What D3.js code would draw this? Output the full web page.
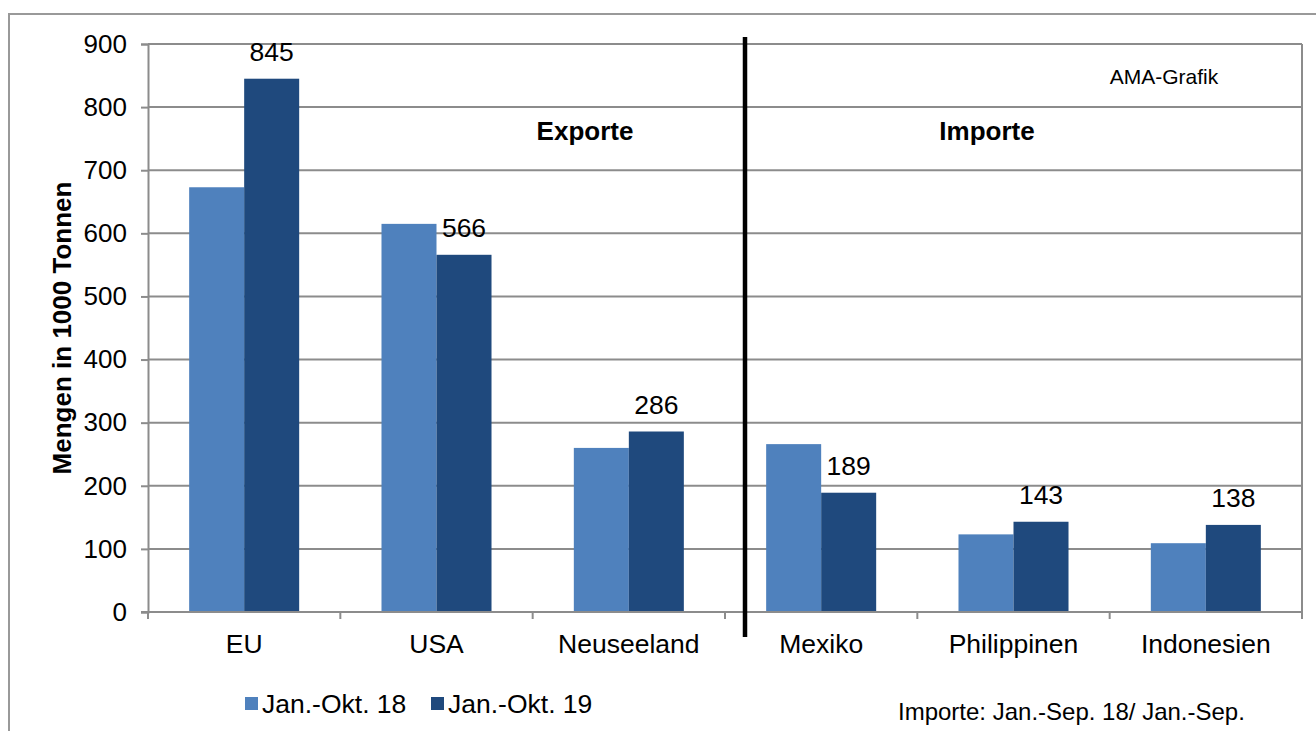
<!DOCTYPE html>
<html><head><meta charset="utf-8">
<script src="https://cdn.jsdelivr.net/npm/d3@7"></script>
<style>body{margin:0;background:#fff;}svg{display:block;font-family:"Liberation Sans",Arial,sans-serif;}</style>
</head><body>
<svg id="c" width="1316" height="731"></svg>
<script>
const categories = ["EU","USA","Neuseeland","Mexiko","Philippinen","Indonesien"];
const seriesNames = ["Jan.-Okt. 18","Jan.-Okt. 19"];
const values18 = [673,615,260,266,123,109];
const values19 = [845,566,286,189,143,138];
const yTicks = [0,100,200,300,400,500,600,700,800,900];
const colors = ["#4F81BD","#1F497D"];

(function(){
const svg = d3.select("#c");
const pL=148,pR=1302,pT=44,pB=612;

svg.append("rect").attr("x",9).attr("y",14).attr("width",1400).attr("height",800)
  .attr("fill","none").attr("stroke","#999").attr("stroke-width",2);

const x = d3.scaleBand().domain(categories).range([pL,pR]);
const y = d3.scaleLinear().domain([0,900]).range([pB,pT]);
const groupFrac = 0.572;
const sub = d3.scaleBand().domain([0,1]).range([0, x.bandwidth()*groupFrac]);
const gOff = x.bandwidth()*(1-groupFrac)/2;

svg.append("g").selectAll("line").data(yTicks.filter(d=>d>0)).join("line")
  .attr("x1",pL).attr("x2",pR).attr("y1",d=>y(d)).attr("y2",d=>y(d))
  .attr("stroke","#8c8c8c").attr("stroke-width",2);
svg.append("line").attr("x1",pR).attr("x2",pR).attr("y1",pT).attr("y2",pB)
  .attr("stroke","#8c8c8c").attr("stroke-width",2);

const data = categories.map((c,i)=>({c, v:[values18[i],values19[i]]}));
const g = svg.append("g");
data.forEach(d=>{
  d.v.forEach((v,j)=>{
    g.append("rect").attr("x",x(d.c)+gOff+sub(j)).attr("y",y(v))
      .attr("width",sub.bandwidth()).attr("height",y(0)-y(v))
      .attr("fill",colors[j]);
  });
  g.append("text").attr("x",x(d.c)+gOff+sub(1)+sub.bandwidth()/2).attr("y",y(d.v[1])-18)
    .attr("text-anchor","middle").attr("font-size",26.5).attr("fill","#000").text(d.v[1]);
});

const yAxis = d3.axisLeft(y).tickValues(yTicks).tickSize(7).tickPadding(14);
const ya = svg.append("g").attr("transform",`translate(${pL},0)`).call(yAxis);
ya.select(".domain").attr("stroke","#8c8c8c").attr("stroke-width",2);
ya.selectAll(".tick line").attr("stroke","#8c8c8c").attr("stroke-width",2);
ya.selectAll("text").attr("font-size",26).attr("fill","#000").attr("font-family","Liberation Sans, Arial, sans-serif");

const xa = svg.append("g").attr("transform",`translate(0,${pB})`);
xa.append("line").attr("x1",pL-7).attr("x2",pR).attr("y1",0).attr("y2",0)
  .attr("stroke","#8c8c8c").attr("stroke-width",2);
const bounds = categories.map(c=>x(c)).concat([pR]);
xa.selectAll("line.t").data(bounds).join("line").attr("class","t")
  .attr("x1",d=>d).attr("x2",d=>d).attr("y1",0).attr("y2",7)
  .attr("stroke","#8c8c8c").attr("stroke-width",2);
xa.selectAll("text").data(categories).join("text")
  .attr("x",d=>x(d)+x.bandwidth()/2).attr("y",41)
  .attr("text-anchor","middle").attr("font-size",26.5).attr("fill","#000").text(d=>d);

const divX = x("Mexiko")+20;
svg.append("line").attr("x1",divX).attr("x2",divX).attr("y1",37).attr("y2",637)
  .attr("stroke","#000").attr("stroke-width",4.5);

svg.append("text").attr("x",585).attr("y",140).attr("text-anchor","middle")
  .attr("font-size",26).attr("font-weight","bold").text("Exporte");
svg.append("text").attr("x",987).attr("y",140).attr("text-anchor","middle")
  .attr("font-size",26).attr("font-weight","bold").text("Importe");
svg.append("text").attr("x",1164).attr("y",84).attr("text-anchor","middle")
  .attr("font-size",21).text("AMA-Grafik");

svg.append("text").attr("transform","translate(71,328) rotate(-90)")
  .attr("text-anchor","middle").attr("font-size",26).attr("font-weight","bold")
  .text("Mengen in 1000 Tonnen");

const legX = [245,431];
seriesNames.forEach((s,i)=>{
  svg.append("rect").attr("x",legX[i]).attr("y",697).attr("width",13).attr("height",13).attr("fill",colors[i]);
  svg.append("text").attr("x",legX[i]+17).attr("y",713).attr("font-size",26.5).text(s);
});

svg.append("text").attr("x",898).attr("y",720).attr("font-size",24).text("Importe: Jan.-Sep. 18/ Jan.-Sep.");
})();
</script>
</body></html>
